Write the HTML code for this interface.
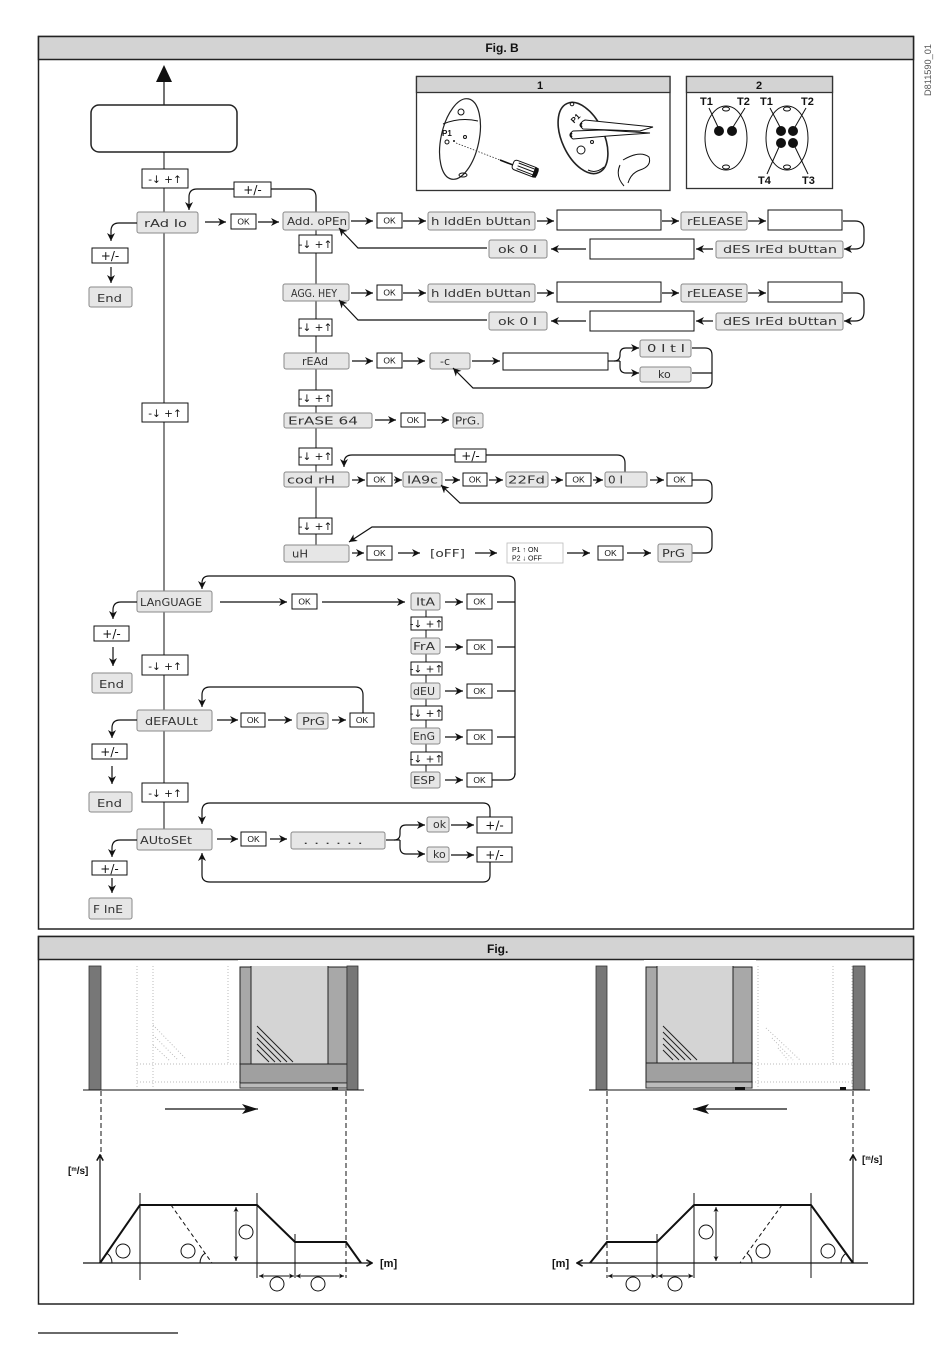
<!DOCTYPE html>
<html><head><meta charset="utf-8">
<style>
html,body{margin:0;padding:0;background:#fff;}
svg{display:block}
.d{fill:#e6e6e6;stroke:#8a8a8a;stroke-width:1}
.w{fill:#fff;stroke:#111;stroke-width:1}
.t{font-family:"DejaVu Sans",sans-serif;font-size:11px;fill:#333}
.o{font-family:"Liberation Sans",sans-serif;font-size:8.5px;fill:#111;text-anchor:middle}
.u{font-family:"DejaVu Sans",sans-serif;font-size:10.5px;fill:#111;text-anchor:middle}
.p{font-family:"DejaVu Sans",sans-serif;font-size:12px;fill:#111;text-anchor:middle}
.l{stroke:#111;stroke-width:1.2;fill:none}
.a{marker-end:url(#ar)}
.b{font-family:"Liberation Sans",sans-serif;font-weight:bold;fill:#111}
.g{stroke:#bbb;stroke-width:1;stroke-dasharray:1,2;fill:none}
.k{stroke:#111;stroke-width:1;fill:none}
</style></head><body>
<svg width="950" height="1353" viewBox="0 0 950 1353" xmlns="http://www.w3.org/2000/svg">
<defs>
<marker id="ar" viewBox="0 0 10 10" refX="10" refY="5" markerWidth="8" markerHeight="8" markerUnits="userSpaceOnUse" orient="auto"><path d="M0,0 L10,5 L0,10 L3,5 z" fill="#111"/></marker>
<marker id="sm" viewBox="0 0 10 10" refX="10" refY="5" markerWidth="5" markerHeight="5" markerUnits="userSpaceOnUse" orient="auto"><path d="M0,0 L10,5 L0,10 L3,5 z" fill="#111"/></marker>
<marker id="sm0" viewBox="0 0 10 10" refX="0" refY="5" markerWidth="5" markerHeight="5" markerUnits="userSpaceOnUse" orient="auto"><path d="M10,0 L0,5 L10,10 L7,5 z" fill="#111"/></marker>
<marker id="ch" viewBox="0 0 10 10" refX="9" refY="5" markerWidth="8" markerHeight="8" markerUnits="userSpaceOnUse" orient="auto"><path d="M2,1 L9,5 L2,9" fill="none" stroke="#111" stroke-width="2"/></marker>
<marker id="big" viewBox="0 0 16 10" refX="16" refY="5" markerWidth="16" markerHeight="10" markerUnits="userSpaceOnUse" orient="auto"><path d="M0,0 L16,5 L0,10 L4,5 z" fill="#111"/></marker>
</defs>

<!-- ============ FRAME B ============ -->
<rect x="38.5" y="36.5" width="875" height="892.5" fill="#fff" stroke="#222" stroke-width="1.5"/>
<rect x="38.5" y="36.5" width="875" height="23" fill="#d3d3d3" stroke="#222" stroke-width="1.5"/>
<text class="b" x="502" y="52" font-size="12" text-anchor="middle">Fig. B</text>
<text transform="translate(931,96) rotate(-90)" font-family="Liberation Sans,sans-serif" font-size="9" fill="#555" textLength="52" lengthAdjust="spacingAndGlyphs">D811590_01</text>

<!-- top arrow and rounded rect -->
<line x1="164" y1="80" x2="164" y2="105" stroke="#444" stroke-width="1.5"/>
<polygon points="156,82 172,82 164,65" fill="#111"/>
<rect x="91" y="105" width="146" height="47" rx="8" fill="#fff" stroke="#222" stroke-width="1.5"/>

<!-- main vertical -->
<line x1="164" y1="152" x2="164" y2="829" class="k"/>

<!-- main ud boxes -->
<rect class="w" x="142" y="169" width="46" height="19"/><text class="u" x="165" y="183" font-size="13">-↓ +↑</text>
<rect class="w" x="142" y="403" width="46" height="19"/><text class="u" x="165" y="417" font-size="13">-↓ +↑</text>
<rect class="w" x="142" y="655" width="46" height="20"/><text class="u" x="165" y="670" font-size="13">-↓ +↑</text>
<rect class="w" x="142" y="783" width="46" height="19"/><text class="u" x="165" y="797" font-size="13">-↓ +↑</text>

<!-- main display boxes -->
<rect class="d" x="137" y="212" width="61" height="21" rx="2"/><text class="t" x="144" y="227" font-size="13" textLength="43" lengthAdjust="spacingAndGlyphs">rAd Io</text>
<rect class="d" x="137" y="591" width="75" height="21" rx="2"/><text class="t" x="140" y="606" font-size="12" textLength="62" lengthAdjust="spacingAndGlyphs">LAnGUAGE</text>
<rect class="d" x="137" y="710" width="75" height="21" rx="2"/><text class="t" x="145" y="725" font-size="12" textLength="53" lengthAdjust="spacingAndGlyphs">dEFAULt</text>
<rect class="d" x="137" y="829" width="75" height="21" rx="2"/><text class="t" x="140" y="844" font-size="12" textLength="52" lengthAdjust="spacingAndGlyphs">AUtoSEt</text>

<!-- left branches -->
<path class="l a" d="M137,223 H119 Q111,223 111,231 V241"/>
<rect class="w" x="92" y="248" width="36" height="15"/><text class="p" x="110" y="260">+/-</text>
<path class="l a" d="M111,267 V283"/>
<rect class="d" x="89" y="287" width="43" height="20" rx="2"/><text class="t" x="97" y="302" font-size="13" textLength="25" lengthAdjust="spacingAndGlyphs">End</text>

<path class="l a" d="M137,602 H121 Q113,602 113,610 V619"/>
<rect class="w" x="94" y="626" width="35" height="15"/><text class="p" x="111.5" y="638">+/-</text>
<path class="l a" d="M113,647 V666"/>
<rect class="d" x="92" y="673" width="40" height="20" rx="2"/><text class="t" x="99" y="688" font-size="13" textLength="25" lengthAdjust="spacingAndGlyphs">End</text>

<path class="l a" d="M137,720 H120 Q112,720 112,728 V738"/>
<rect class="w" x="92" y="744" width="35" height="15"/><text class="p" x="109.5" y="756">+/-</text>
<path class="l a" d="M112,766 V784"/>
<rect class="d" x="89" y="792" width="43" height="20" rx="2"/><text class="t" x="97" y="807" font-size="13" textLength="25" lengthAdjust="spacingAndGlyphs">End</text>

<path class="l a" d="M137,840 H120 Q112,840 112,848 V857"/>
<rect class="w" x="92" y="861" width="35" height="14"/><text class="p" x="109.5" y="873">+/-</text>
<path class="l a" d="M112,878 V893"/>
<rect class="d" x="89" y="898" width="43" height="21" rx="2"/><text class="t" x="93" y="913" font-size="13" textLength="30" lengthAdjust="spacingAndGlyphs">F InE</text>

<!-- rAd Io loop -->
<path class="l" d="M271,189 H308 Q316,189 316,197 V212"/>
<path class="l a" d="M234,189 H197 Q189,189 189,197 V210"/>
<rect class="w" x="234" y="182" width="37" height="15"/><text class="p" x="252.5" y="194">+/-</text>

<!-- sub vertical -->
<line x1="316" y1="229" x2="316" y2="545" class="k"/>
<rect class="w" x="299" y="235" width="33" height="18"/><text class="u" x="315.5" y="248">-↓ +↑</text>
<rect class="w" x="299" y="319" width="33" height="17"/><text class="u" x="315.5" y="331">-↓ +↑</text>
<rect class="w" x="299" y="390" width="33" height="16"/><text class="u" x="315.5" y="402">-↓ +↑</text>
<rect class="w" x="299" y="448" width="33" height="17"/><text class="u" x="315.5" y="460">-↓ +↑</text>
<rect class="w" x="299" y="518" width="33" height="16"/><text class="u" x="315.5" y="530">-↓ +↑</text>

<!-- Row A -->
<path class="l a" d="M205,222 H226"/>
<rect class="w" x="231" y="214" width="25" height="15"/><text class="o" x="243.5" y="224.5">OK</text>
<path class="l a" d="M258,222 H279"/>
<rect class="d" x="283" y="212" width="66" height="18" rx="2"/><text class="t" x="287" y="225" font-size="10" textLength="60" lengthAdjust="spacingAndGlyphs">Add. oPEn</text>
<path class="l a" d="M351,221 H373"/>
<rect class="w" x="377" y="213" width="25" height="15"/><text class="o" x="389.5" y="223.5">OK</text>
<path class="l a" d="M403,221 H426"/>
<rect class="d" x="428" y="212" width="107" height="18" rx="2"/><text class="t" x="431" y="225" font-size="10" textLength="100" lengthAdjust="spacingAndGlyphs">h IddEn bUttan</text>
<path class="l a" d="M537,221 H554"/>
<rect class="w" x="557" y="210" width="104" height="20"/>
<path class="l a" d="M662,221 H679"/>
<rect class="d" x="681" y="212" width="66" height="18" rx="2"/><text class="t" x="687" y="225" font-size="10" textLength="56" lengthAdjust="spacingAndGlyphs">rELEASE</text>
<path class="l a" d="M748,221 H766"/>
<rect class="w" x="768" y="210" width="74" height="20"/>
<path class="l a" d="M843,221 H855 Q864,221 864,230 V240 Q864,249 855,249 H844"/>
<!-- Row B -->
<rect class="d" x="716" y="241" width="127" height="17" rx="2"/><text class="t" x="723" y="253" font-size="10" textLength="114" lengthAdjust="spacingAndGlyphs">dES IrEd bUttan</text>
<path class="l a" d="M713,249 H696"/>
<rect class="w" x="590" y="239" width="104" height="20"/>
<path class="l a" d="M586,249 H551"/>
<rect class="d" x="489" y="240" width="58" height="18" rx="2"/><text class="t" x="498" y="253" font-size="10" textLength="39" lengthAdjust="spacingAndGlyphs">ok  0 I</text>
<path class="l a" d="M487,248 H358 L339,228"/>

<!-- Row C -->
<rect class="d" x="283" y="284" width="66" height="17" rx="2"/><text class="t" x="291" y="297" font-size="10" textLength="46" lengthAdjust="spacingAndGlyphs">AGG. HEY</text>
<path class="l a" d="M351,293 H373"/>
<rect class="w" x="377" y="285" width="25" height="15"/><text class="o" x="389.5" y="295.5">OK</text>
<path class="l a" d="M403,293 H426"/>
<rect class="d" x="428" y="284" width="107" height="18" rx="2"/><text class="t" x="431" y="297" font-size="10" textLength="100" lengthAdjust="spacingAndGlyphs">h IddEn bUttan</text>
<path class="l a" d="M537,293 H554"/>
<rect class="w" x="557" y="282" width="104" height="20"/>
<path class="l a" d="M662,293 H679"/>
<rect class="d" x="681" y="284" width="66" height="18" rx="2"/><text class="t" x="687" y="297" font-size="10" textLength="56" lengthAdjust="spacingAndGlyphs">rELEASE</text>
<path class="l a" d="M748,293 H766"/>
<rect class="w" x="768" y="282" width="74" height="20"/>
<path class="l a" d="M843,293 H855 Q864,293 864,302 V312 Q864,321 855,321 H844"/>
<!-- Row D -->
<rect class="d" x="716" y="313" width="127" height="17" rx="2"/><text class="t" x="723" y="325" font-size="10" textLength="114" lengthAdjust="spacingAndGlyphs">dES IrEd bUttan</text>
<path class="l a" d="M713,321 H696"/>
<rect class="w" x="590" y="311" width="104" height="20"/>
<path class="l a" d="M586,321 H551"/>
<rect class="d" x="489" y="312" width="58" height="18" rx="2"/><text class="t" x="498" y="325" font-size="10" textLength="39" lengthAdjust="spacingAndGlyphs">ok  0 I</text>
<path class="l a" d="M487,320 H358 L339,300"/>

<!-- Row E rEAd -->
<rect class="d" x="284" y="353" width="65" height="16" rx="2"/><text class="t" x="302" y="365" font-size="10" textLength="26" lengthAdjust="spacingAndGlyphs">rEAd</text>
<path class="l a" d="M352,361 H373"/>
<rect class="w" x="377" y="353" width="25" height="15"/><text class="o" x="389.5" y="363.5">OK</text>
<path class="l a" d="M403,361 H425"/>
<rect class="d" x="430" y="353" width="40" height="16" rx="2"/><text class="t" x="440" y="365" font-size="10">-c</text>
<path class="l a" d="M472,361 H500"/>
<rect class="w" x="503" y="353" width="105" height="17"/>
<path class="l" d="M608,361 H620"/>
<path class="l a" d="M614,361 Q620,361 620,355 V354 Q620,348 626,348 H639"/>
<path class="l a" d="M620,361 V367 Q620,373 626,373 H639"/>
<rect class="d" x="640" y="340" width="51" height="17" rx="2"/><text class="t" x="647" y="352" font-size="10" textLength="38" lengthAdjust="spacingAndGlyphs">0 I t I</text>
<rect class="d" x="640" y="367" width="51" height="15" rx="2"/><text class="t" x="658" y="378" font-size="10">ko</text>
<path class="l a" d="M692,348 H705 Q712,348 712,355 V381 Q712,388 705,388 H473 L453,368"/>
<path class="l" d="M692,373 H712"/>

<!-- Row F ErASE -->
<rect class="d" x="284" y="413" width="88" height="15" rx="2"/><text class="t" x="288" y="424.5" font-size="10" textLength="70" lengthAdjust="spacingAndGlyphs">ErASE 64</text>
<path class="l a" d="M375,420 H396"/>
<rect class="w" x="401" y="413" width="24" height="14"/><text class="o" x="413" y="423">OK</text>
<path class="l a" d="M427,420 H449"/>
<rect class="d" x="453" y="413" width="30" height="15" rx="2"/><text class="t" x="455" y="424.5" font-size="10" textLength="25" lengthAdjust="spacingAndGlyphs">PrG.</text>

<!-- Row G cod rH -->
<path class="l a" d="M625,472 V463 Q625,455 617,455 H352 Q344,455 344,463 V467"/>
<rect class="w" x="455" y="449" width="31" height="13"/><text class="p" x="470.5" y="460" font-size="11">+/-</text>
<rect class="d" x="284" y="472" width="65" height="15" rx="2"/><text class="t" x="287" y="483.5" font-size="10" textLength="48" lengthAdjust="spacingAndGlyphs">cod rH</text>
<path class="l a" d="M352,480 H365"/>
<rect class="w" x="367" y="473" width="25" height="13"/><text class="o" x="379.5" y="482.5">OK</text>
<path class="l a" d="M394,480 H402"/>
<rect class="d" x="403" y="472" width="39" height="15" rx="2"/><text class="t" x="407" y="483.5" font-size="10" textLength="31" lengthAdjust="spacingAndGlyphs">IA9c</text>
<path class="l a" d="M445,480 H460"/>
<rect class="w" x="463" y="473" width="24" height="13"/><text class="o" x="475" y="482.5">OK</text>
<path class="l a" d="M489,480 H503"/>
<rect class="d" x="506" y="472" width="42" height="15" rx="2"/><text class="t" x="508" y="483.5" font-size="10" textLength="37" lengthAdjust="spacingAndGlyphs">22Fd</text>
<path class="l a" d="M551,480 H563"/>
<rect class="w" x="566" y="473" width="25" height="13"/><text class="o" x="578.5" y="482.5">OK</text>
<path class="l a" d="M593,480 H603"/>
<rect class="d" x="605" y="472" width="42" height="15" rx="2"/><text class="t" x="608" y="483.5" font-size="10" textLength="15" lengthAdjust="spacingAndGlyphs">0 I</text>
<path class="l a" d="M650,480 H664"/>
<rect class="w" x="667" y="473" width="25" height="13"/><text class="o" x="679.5" y="482.5">OK</text>
<path class="l a" d="M692,480 H705 Q712,480 712,487 V496 Q712,503 705,503 H460 L441,485"/>

<!-- Row H uH -->
<path class="l a" d="M692,553 H705 Q712,553 712,546 V534 Q712,527 705,527 H372 L349,542"/>
<rect class="d" x="284" y="545" width="65" height="17" rx="2"/><text class="t" x="292" y="557.5" font-size="10" textLength="16" lengthAdjust="spacingAndGlyphs">uH</text>
<path class="l a" d="M352,553 H364"/>
<rect class="w" x="367" y="546" width="25" height="14"/><text class="o" x="379.5" y="556">OK</text>
<path class="l a" d="M398,553 H420"/>
<text class="t" x="430" y="557" font-size="10" textLength="35" lengthAdjust="spacingAndGlyphs">[oFF]</text>
<path class="l a" d="M475,553 H497"/>
<rect x="507" y="543" width="56" height="20" fill="#fff" stroke="#bbb" stroke-width="0.8"/>
<text x="512" y="552" font-family="Liberation Sans,sans-serif" font-size="7" fill="#111">P1 ↑ ON</text>
<text x="512" y="560.5" font-family="Liberation Sans,sans-serif" font-size="7" fill="#111">P2 ↓ OFF</text>
<path class="l a" d="M567,553 H590"/>
<rect class="w" x="598" y="546" width="25" height="14"/><text class="o" x="610.5" y="556">OK</text>
<path class="l a" d="M627,553 H651"/>
<rect class="d" x="658" y="544" width="34" height="18" rx="2"/><text class="t" x="662" y="557" font-size="10" textLength="23" lengthAdjust="spacingAndGlyphs">PrG</text>

<!-- LANGUAGE section -->
<path class="l a" d="M515,775 V583 Q515,576 508,576 H209 Q202,576 202,583 V589"/>
<path class="l" d="M492,780 H508 Q515,780 515,773"/>
<path class="l" d="M497,602 H515 M497,647 H515 M497,691 H515 M497,737 H515"/>
<path class="l a" d="M220,602 H287"/>
<rect class="w" x="292" y="594" width="25" height="15"/><text class="o" x="304.5" y="604.5">OK</text>
<path class="l a" d="M322,602 H405"/>
<line x1="426" y1="610" x2="426" y2="772" class="k"/>
<rect class="w" x="411" y="617" width="31" height="13"/><text class="u" x="426.5" y="627.5">-↓ +↑</text>
<rect class="w" x="411" y="662" width="31" height="13"/><text class="u" x="426.5" y="672.5">-↓ +↑</text>
<rect class="w" x="411" y="706" width="31" height="14"/><text class="u" x="426.5" y="717">-↓ +↑</text>
<rect class="w" x="411" y="752" width="31" height="13"/><text class="u" x="426.5" y="762.5">-↓ +↑</text>

<rect class="d" x="411" y="593" width="29" height="17" rx="2"/><text class="t" x="416" y="605.5" font-size="10" textLength="19" lengthAdjust="spacingAndGlyphs">ItA</text>
<path class="l a" d="M445,602 H463"/>
<rect class="w" x="467" y="594" width="25" height="15"/><text class="o" x="479.5" y="604.5">OK</text>

<rect class="d" x="411" y="638" width="29" height="16" rx="2"/><text class="t" x="413" y="650" font-size="10" textLength="22" lengthAdjust="spacingAndGlyphs">FrA</text>
<path class="l a" d="M445,647 H463"/>
<rect class="w" x="467" y="640" width="25" height="14"/><text class="o" x="479.5" y="650">OK</text>

<rect class="d" x="411" y="683" width="29" height="16" rx="2"/><text class="t" x="413" y="695" font-size="10" textLength="22" lengthAdjust="spacingAndGlyphs">dEU</text>
<path class="l a" d="M445,691 H463"/>
<rect class="w" x="467" y="684" width="25" height="14"/><text class="o" x="479.5" y="694">OK</text>

<rect class="d" x="411" y="728" width="29" height="16" rx="2"/><text class="t" x="413" y="740" font-size="10" textLength="22" lengthAdjust="spacingAndGlyphs">EnG</text>
<path class="l a" d="M445,737 H463"/>
<rect class="w" x="467" y="730" width="25" height="14"/><text class="o" x="479.5" y="740">OK</text>

<rect class="d" x="411" y="772" width="29" height="16" rx="2"/><text class="t" x="413" y="784" font-size="10" textLength="22" lengthAdjust="spacingAndGlyphs">ESP</text>
<path class="l a" d="M445,780 H463"/>
<rect class="w" x="467" y="773" width="25" height="14"/><text class="o" x="479.5" y="783">OK</text>

<!-- DEFAULT section -->
<path class="l a" d="M363,713 V695 Q363,687 355,687 H210 Q202,687 202,695 V707"/>
<path class="l a" d="M217,720 H238"/>
<rect class="w" x="241" y="713" width="24" height="14"/><text class="o" x="253" y="723">OK</text>
<path class="l a" d="M268,720 H292"/>
<rect class="d" x="297" y="713" width="31" height="16" rx="2"/><text class="t" x="302" y="725" font-size="10" textLength="23" lengthAdjust="spacingAndGlyphs">PrG</text>
<path class="l a" d="M332,720 H346"/>
<rect class="w" x="350" y="713" width="24" height="14"/><text class="o" x="362" y="723">OK</text>

<!-- AUTOSET section -->
<path class="l a" d="M490,817 V810 Q490,803 483,803 H210 Q202,803 202,811 V824"/>
<path class="l a" d="M490,862 V875 Q490,882 483,882 H210 Q202,882 202,875 V853"/>
<path class="l a" d="M217,839 H238"/>
<rect class="w" x="241" y="832" width="25" height="14"/><text class="o" x="253.5" y="842">OK</text>
<path class="l a" d="M270,839 H287"/>
<rect class="d" x="291" y="832" width="94" height="17" rx="2"/><text class="t" x="303" y="844" font-size="10" textLength="60" lengthAdjust="spacingAndGlyphs">. . .     . . .</text>
<path class="l" d="M386,840 H400"/>
<path class="l a" d="M394,840 Q400,840 400,834 V831 Q400,825 406,825 H425"/>
<path class="l a" d="M400,840 V847 Q400,854 406,854 H425"/>
<rect class="d" x="427" y="817" width="22" height="15" rx="2"/><text class="t" x="433" y="828" font-size="10">ok</text>
<rect class="d" x="427" y="847" width="22" height="15" rx="2"/><text class="t" x="433" y="858" font-size="10">ko</text>
<path class="l a" d="M451,825 H474"/>
<path class="l a" d="M451,855 H474"/>
<rect class="w" x="477" y="817" width="35" height="16"/><text class="p" x="494.5" y="829.5">+/-</text>
<rect class="w" x="477" y="847" width="35" height="15"/><text class="p" x="494.5" y="859">+/-</text>

<!-- ====== PANEL 1 ====== -->
<rect x="416.5" y="76.5" width="253.5" height="114" fill="#fff" stroke="#333" stroke-width="1.3"/>
<rect x="416.5" y="76.5" width="253.5" height="16" fill="#d3d3d3" stroke="#333" stroke-width="1.3"/>
<text class="b" x="540" y="89" font-size="11" text-anchor="middle">1</text>
<!-- remote A -->
<ellipse cx="460" cy="139" rx="19" ry="41" transform="rotate(12 460 139)" fill="#fff" stroke="#222" stroke-width="1.2"/>
<path d="M443,124 Q460,117 478,121" class="k"/>
<circle cx="461" cy="112" r="3" class="k"/>
<text class="b" x="442" y="136" font-size="8">P1</text>
<circle cx="447" cy="142" r="2" class="k"/>
<circle cx="454" cy="141" r="1" fill="#111"/>
<circle cx="465" cy="137" r="1.5" class="k"/>
<ellipse cx="463" cy="175" rx="4" ry="2" class="k"/>
<line x1="456" y1="143" x2="500" y2="160" stroke="#333" stroke-width="0.8" stroke-dasharray="1.5,1.5"/>
<line x1="500" y1="160" x2="513" y2="165" stroke="#111" stroke-width="1.6"/>
<g transform="rotate(21 513 164)">
<rect x="513" y="159" width="26" height="10" rx="3" fill="#fff" stroke="#111" stroke-width="1"/>
<line x1="518" y1="161" x2="536" y2="161" stroke="#111"/><line x1="518" y1="164" x2="536" y2="164" stroke="#111"/><line x1="518" y1="167" x2="536" y2="167" stroke="#111"/>
<rect x="535" y="159" width="4" height="10" fill="#111"/>
</g>
<!-- remote B -->
<ellipse cx="583" cy="138" rx="21" ry="38" transform="rotate(-25 583 138)" fill="#fff" stroke="#222" stroke-width="1.6"/>
<text class="b" x="570" y="122" font-size="8" transform="rotate(-45 574 118)">P1</text>
<circle cx="572" cy="104" r="1.8" class="k"/>
<circle cx="581" cy="150" r="4" class="k"/>
<circle cx="592" cy="142" r="1.5" class="k"/>
<path d="M583,121 Q578,125 583,129 L640,131 L653,127 L585,120 Z" fill="#fff" stroke="#111" stroke-width="1"/>
<path d="M573,131 Q567,135 573,139 L608,136 L650,133 L602,130 Z" fill="#fff" stroke="#111" stroke-width="1"/>
<path d="M582,123 Q579,125 582,127" stroke="#111" stroke-width="2" fill="none"/>
<path d="M572,133 Q569,135 572,137" stroke="#111" stroke-width="2" fill="none"/>
<path d="M623,160 Q640,150 649,157 Q652,166 640,170 Q631,173 628,183 M620,165 Q615,176 624,186 M588,170 Q596,174 604,167" class="k"/>

<!-- ====== PANEL 2 ====== -->
<rect x="686.5" y="76.5" width="146" height="112" fill="#fff" stroke="#333" stroke-width="1.3"/>
<rect x="686.5" y="76.5" width="146" height="16" fill="#d3d3d3" stroke="#333" stroke-width="1.3"/>
<text class="b" x="759" y="89" font-size="11" text-anchor="middle">2</text>
<text class="b" x="700" y="105" font-size="11">T1</text>
<text class="b" x="737" y="105" font-size="11">T2</text>
<text class="b" x="760" y="105" font-size="11">T1</text>
<text class="b" x="801" y="105" font-size="11">T2</text>
<text class="b" x="758" y="184" font-size="11">T4</text>
<text class="b" x="802" y="184" font-size="11">T3</text>
<ellipse cx="726" cy="138" rx="21" ry="32" class="k"/>
<ellipse cx="726" cy="109" rx="3.5" ry="2" class="k"/>
<ellipse cx="726" cy="167" rx="3.5" ry="2" class="k"/>
<circle cx="719" cy="131" r="5" fill="#111"/><circle cx="732" cy="131" r="5" fill="#111"/>
<line x1="709" y1="108" x2="718" y2="127" class="k"/><line x1="745" y1="108" x2="733" y2="127" class="k"/>
<ellipse cx="787" cy="138" rx="21" ry="32" class="k"/>
<ellipse cx="787" cy="109" rx="3.5" ry="2" class="k"/>
<ellipse cx="787" cy="167" rx="3.5" ry="2" class="k"/>
<circle cx="781" cy="131" r="5" fill="#111"/><circle cx="793" cy="131" r="5" fill="#111"/>
<circle cx="781" cy="143" r="5" fill="#111"/><circle cx="793" cy="143" r="5" fill="#111"/>
<line x1="770" y1="108" x2="780" y2="127" class="k"/><line x1="806" y1="108" x2="795" y2="127" class="k"/>
<line x1="767" y1="174" x2="779" y2="147" class="k"/><line x1="808" y1="174" x2="795" y2="147" class="k"/>

<!-- ============ FRAME 2 ============ -->
<rect x="38.5" y="936.5" width="875" height="367.5" fill="#fff" stroke="#222" stroke-width="1.5"/>
<rect x="38.5" y="936.5" width="875" height="23" fill="#d3d3d3" stroke="#222" stroke-width="1.5"/>
<text class="b" x="487" y="953" font-size="12">Fig.</text>

<!-- LEFT gate figure -->
<rect x="89" y="966" width="12" height="124" fill="#777" stroke="#333" stroke-width="0.8"/>
<path class="g" d="M137,966 V1089 M153,966 V1089 M228,966 V1064 M137,1064 H240 M137,1082 H240 M153,1025 L185,1058 M153,1035 L178,1060 M153,1045 L170,1061"/>
<rect x="240" y="967" width="107" height="121" fill="#a8a8a8" stroke="#222" stroke-width="1"/>
<rect x="251" y="962" width="77" height="102" fill="#d4d4d4" stroke="#222" stroke-width="1"/>
<rect x="240" y="1064" width="107" height="19" fill="#a0a0a0" stroke="#222" stroke-width="1"/>
<rect x="240" y="1083" width="107" height="5" fill="#bbb" stroke="#222" stroke-width="0.8"/>
<rect x="238" y="960" width="112" height="6" fill="#fff"/>
<path d="M257,1026 L293,1062 M257,1032 L287,1062 M257,1038 L281,1062 M257,1044 L275,1062 M257,1050 L269,1062" stroke="#222" stroke-width="1"/>
<rect x="347" y="966" width="11" height="124" fill="#777" stroke="#333" stroke-width="0.8"/>
<rect x="332" y="1087" width="6" height="3" fill="#111"/>
<line x1="83" y1="1090" x2="364" y2="1090" stroke="#111" stroke-width="1"/>
<line x1="165" y1="1109" x2="258" y2="1109" stroke="#111" stroke-width="1.2" marker-end="url(#big)"/>
<line x1="101" y1="1091" x2="101" y2="1157" stroke="#111" stroke-width="1" stroke-dasharray="5,3"/>
<line x1="346" y1="1091" x2="346" y2="1278" stroke="#111" stroke-width="1" stroke-dasharray="5,3"/>
<line x1="100" y1="1263" x2="100" y2="1155" stroke="#111" stroke-width="1.2" marker-end="url(#ch)"/>
<line x1="83" y1="1263" x2="372" y2="1263" stroke="#111" stroke-width="1.2" marker-end="url(#ch)"/>
<text class="b" x="68" y="1174" font-size="10">[<tspan font-size="6" dy="-3">m</tspan><tspan dy="3">/s]</tspan></text>
<text class="b" x="380" y="1267" font-size="11">[m]</text>
<polyline points="100,1263 140,1205 257,1205 295,1242 346,1242 361,1263" fill="none" stroke="#111" stroke-width="2"/>
<path d="M140,1193 V1280 M257,1193 V1278 M295,1234 V1278" class="k"/>
<line x1="171" y1="1205" x2="212" y2="1263" stroke="#111" stroke-width="1" stroke-dasharray="4,3"/>
<line x1="236" y1="1207" x2="236" y2="1261" stroke="#111" stroke-width="1" marker-end="url(#sm)" marker-start="url(#sm0)"/>
<line x1="259" y1="1276" x2="294" y2="1276" stroke="#111" stroke-width="1" marker-end="url(#sm)" marker-start="url(#sm0)"/>
<line x1="296" y1="1276" x2="344" y2="1276" stroke="#111" stroke-width="1" marker-end="url(#sm)" marker-start="url(#sm0)"/>
<g class="k"><circle cx="123" cy="1251" r="7"/><circle cx="188" cy="1251" r="7"/><circle cx="246" cy="1232" r="7"/><circle cx="277" cy="1284" r="7"/><circle cx="318" cy="1284" r="7"/></g>
<path d="M112,1263 A12,12 0 0 0 106.8,1253.1 M200,1263 A12,12 0 0 1 205.1,1253.2" class="k"/>

<!-- RIGHT gate figure -->
<rect x="596" y="966" width="11" height="124" fill="#777" stroke="#333" stroke-width="0.8"/>
<path class="g" d="M758,966 V1089 M833,966 V1064 M852,966 V1089 M752,1064 H853 M752,1082 H853 M766,1028 L800,1060 M772,1038 L793,1060 M778,1048 L788,1060"/>
<rect x="646" y="967" width="106" height="121" fill="#a8a8a8" stroke="#222" stroke-width="1"/>
<rect x="657" y="962" width="76" height="101" fill="#d4d4d4" stroke="#222" stroke-width="1"/>
<rect x="646" y="1063" width="106" height="19" fill="#a0a0a0" stroke="#222" stroke-width="1"/>
<rect x="646" y="1082" width="106" height="6" fill="#bbb" stroke="#222" stroke-width="0.8"/>
<rect x="644" y="960" width="112" height="6" fill="#fff"/>
<path d="M663,1026 L697,1060 M663,1032 L691,1060 M663,1038 L685,1060 M663,1044 L679,1060 M663,1050 L673,1060" stroke="#222" stroke-width="1"/>
<rect x="853" y="966" width="12" height="124" fill="#777" stroke="#333" stroke-width="0.8"/>
<rect x="735" y="1087" width="10" height="3" fill="#111"/>
<rect x="840" y="1087" width="6" height="3" fill="#111"/>
<line x1="589" y1="1090" x2="870" y2="1090" stroke="#111" stroke-width="1"/>
<line x1="787" y1="1109" x2="693" y2="1109" stroke="#111" stroke-width="1.2" marker-end="url(#big)"/>
<line x1="607" y1="1091" x2="607" y2="1278" stroke="#111" stroke-width="1" stroke-dasharray="5,3"/>
<line x1="853" y1="1091" x2="853" y2="1157" stroke="#111" stroke-width="1" stroke-dasharray="5,3"/>
<line x1="853" y1="1263" x2="853" y2="1155" stroke="#111" stroke-width="1.2" marker-end="url(#ch)"/>
<line x1="868" y1="1263" x2="577" y2="1263" stroke="#111" stroke-width="1.2" marker-end="url(#ch)"/>
<text class="b" x="862" y="1163" font-size="10">[<tspan font-size="6" dy="-3">m</tspan><tspan dy="3">/s]</tspan></text>
<text class="b" x="552" y="1267" font-size="11">[m]</text>
<polyline points="590,1263 607,1242 657,1242 694,1205 811,1205 853,1263" fill="none" stroke="#111" stroke-width="2"/>
<path d="M657,1234 V1278 M694,1193 V1278 M811,1193 V1278" class="k"/>
<line x1="782" y1="1205" x2="740" y2="1263" stroke="#111" stroke-width="1" stroke-dasharray="4,3"/>
<line x1="716" y1="1207" x2="716" y2="1261" stroke="#111" stroke-width="1" marker-end="url(#sm)" marker-start="url(#sm0)"/>
<line x1="608" y1="1276" x2="656" y2="1276" stroke="#111" stroke-width="1" marker-end="url(#sm)" marker-start="url(#sm0)"/>
<line x1="658" y1="1276" x2="693" y2="1276" stroke="#111" stroke-width="1" marker-end="url(#sm)" marker-start="url(#sm0)"/>
<g class="k"><circle cx="706" cy="1232" r="7"/><circle cx="763" cy="1251" r="7"/><circle cx="828" cy="1251" r="7"/><circle cx="633" cy="1284" r="7"/><circle cx="675" cy="1284" r="7"/></g>
<path d="M752,1263 A12,12 0 0 0 747,1253.3 M841,1263 A12,12 0 0 1 846,1253.3" class="k"/>

<!-- footnote line -->
<line x1="38" y1="1333" x2="178" y2="1333" stroke="#111" stroke-width="1.3"/>
</svg>
</body></html>
